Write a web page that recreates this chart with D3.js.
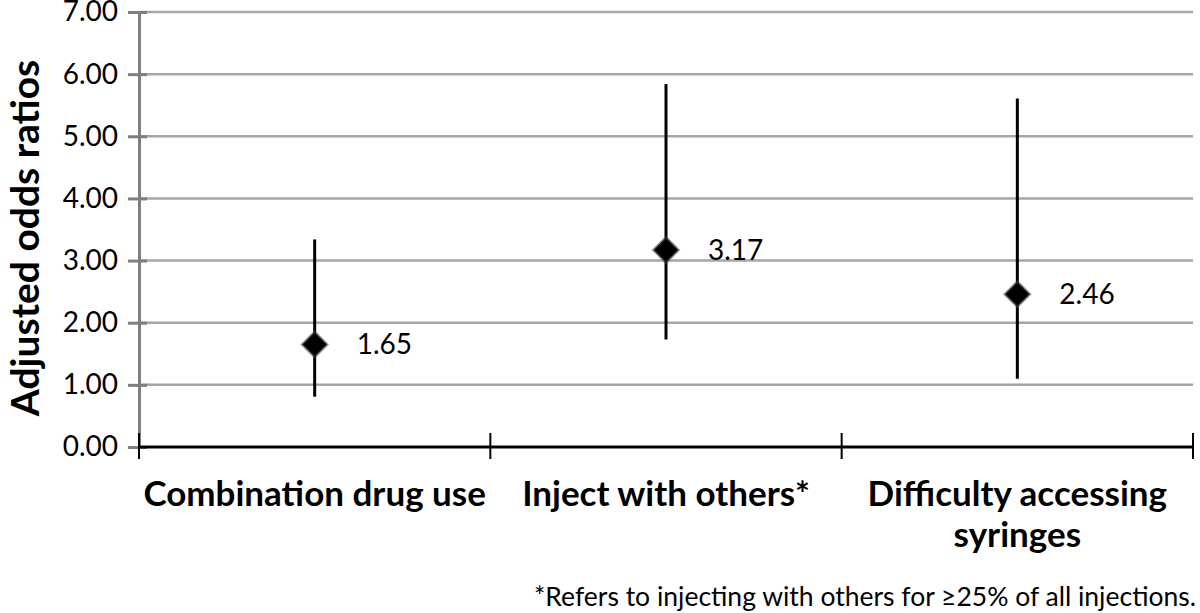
<!DOCTYPE html>
<html><head><meta charset="utf-8">
<script src="https://cdn.jsdelivr.net/npm/d3@7"></script>
<style>body{margin:0;background:#fff}svg{display:block;font-family:Lato,"Open Sans",sans-serif}</style>
</head><body><svg id="c" width="1200" height="613"></svg>
<script>
const categories = [["Combination drug use"], ["Inject with others*"], ["Difficulty accessing", "syringes"]];
const oddsRatios = [1.65, 3.17, 2.46];
const ciLower = [0.81, 1.73, 1.10];
const ciUpper = [3.34, 5.84, 5.61];
const valueLabels = ["1.65", "3.17", "2.46"];
const yTicks = [0, 1, 2, 3, 4, 5, 6, 7];
const yTitle = "Adjusted odds ratios";
const footnote = "*Refers to injecting with others for \u226525% of all injections.";

(function () {
const svg = d3.select("#c");
const pLeft = 139, pRight = 1193, pTop = 12, pBottom = 447;
const keys = categories.map((c, i) => i);
const x = d3.scaleBand().domain(keys).range([pLeft, pRight]);
const y = d3.scaleLinear().domain([0, 7]).range([pBottom, pTop]);

// gridlines
svg.append("g").selectAll("line").data(yTicks.filter(d => d > 0)).join("line")
  .attr("x1", pLeft).attr("x2", pRight).attr("y1", d => y(d)).attr("y2", d => y(d))
  .attr("stroke", "#a6a6a6").attr("stroke-width", 2.5);

// y axis
const ya = svg.append("g").attr("transform", `translate(${pLeft},0)`)
  .call(d3.axisLeft(y).tickValues(yTicks).tickFormat(d3.format(".2f")).tickSize(11).tickPadding(10));
ya.select(".domain").attr("stroke", "#7f7f7f").attr("stroke-width", 3);
ya.selectAll(".tick line").attr("stroke", "#7f7f7f").attr("stroke-width", 3).attr("x2", -11).attr("x1", 8);
ya.selectAll(".tick text").attr("font-size", 28).attr("fill", "#000").attr("font-family", "Lato");

// x axis
const xa = svg.append("g").attr("transform", `translate(0,${pBottom})`);
xa.append("line").attr("x1", pLeft).attr("x2", pRight).attr("stroke", "#000").attr("stroke-width", 3);
const bounds = keys.map(k => x(k)).concat([x(keys[keys.length - 1]) + x.bandwidth()]);
xa.selectAll("line.t").data(bounds).join("line").attr("class", "t")
  .attr("x1", d => d).attr("x2", d => d).attr("y1", -14).attr("y2", 12)
  .attr("stroke", "#000").attr("stroke-width", 2);

// category labels
const cl = svg.append("g").selectAll("text").data(categories).join("text")
  .attr("x", (d, i) => x(i) + x.bandwidth() / 2).attr("y", 506)
  .attr("text-anchor", "middle").attr("font-weight", "bold").attr("font-size", 35);
cl.selectAll("tspan").data(d => d).join("tspan")
  .attr("x", function () { return this.parentNode.getAttribute("x"); })
  .attr("dy", (d, j) => j === 0 ? 0 : 41).text(d => d);

// error bars
const cx = i => x(i) + x.bandwidth() / 2;
svg.append("g").selectAll("line").data(keys).join("line")
  .attr("x1", cx).attr("x2", cx).attr("y1", i => y(ciUpper[i])).attr("y2", i => y(ciLower[i]))
  .attr("stroke", "#000").attr("stroke-width", 3);

// markers
svg.append("g").selectAll("path").data(keys).join("path")
  .attr("d", d3.symbol(d3.symbolSquare, 320))
  .attr("transform", i => `translate(${cx(i)},${y(oddsRatios[i])}) rotate(45)`)
  .attr("fill", "#000").attr("stroke", "#444").attr("stroke-width", 2.5).attr("stroke-opacity", 0.5);

// value labels
svg.append("g").selectAll("text").data(keys).join("text")
  .attr("x", i => cx(i) + 42).attr("y", i => y(oddsRatios[i])).attr("dy", "0.35em")
  .attr("font-size", 28).text(i => valueLabels[i]);

// y title
svg.append("text").attr("transform", `translate(39,238) rotate(-90)`)
  .attr("text-anchor", "middle").attr("font-weight", "bold").attr("font-size", 39).text(yTitle);

// footnote
svg.append("text").attr("x", 1196).attr("y", 606).attr("text-anchor", "end")
  .attr("font-size", 26.5).text(footnote);
})();
</script></body></html>
